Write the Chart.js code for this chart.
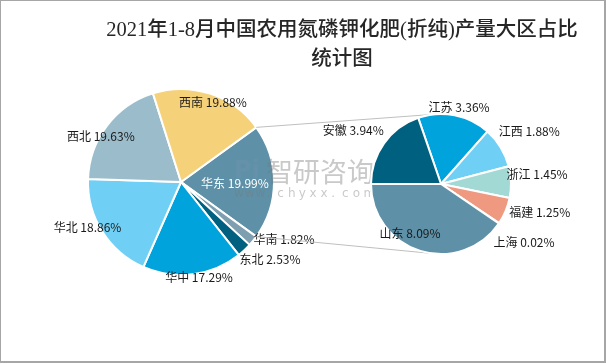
<!DOCTYPE html>
<html>
<head>
<meta charset="utf-8">
<script src="https://cdn.jsdelivr.net/npm/chart.js@4.4.0/dist/chart.umd.min.js"></script>
<style>
  html, body { margin: 0; padding: 0; background: #fff; }
  #wrap { position: relative; width: 606px; height: 364px; }
  #wrap canvas { position: absolute; left: 0; top: 0; }
  #frame { position: absolute; left: 0; top: 0; width: 603px; height: 360px;
           border: 1px solid #a6a6a6; border-right-width: 2px; border-bottom-width: 2px; }
</style>
</head>
<body>
<div id="wrap">
  <canvas id="mainPie" width="606" height="364"></canvas>
  <canvas id="subPie" width="606" height="364"></canvas>
  <div id="frame"></div>
</div>
<script>
const titleLines = ["2021年1-8月中国农用氮磷钾化肥(折纯)产量大区占比", "统计图"];

const mainLabels = ["华东", "华南", "东北", "华中", "华北", "西北", "西南"];
const mainValues = [19.99, 1.82, 2.53, 17.29, 18.86, 19.63, 19.88];

const subLabels = ["江苏", "江西", "浙江", "福建", "上海", "山东", "安徽"];
const subValues = [3.36, 1.88, 1.45, 1.25, 0.02, 8.09, 3.94];

const mainColors = ["#5e91a8", "#7d9fb0", "#00607f", "#00a3dc", "#6fcff5", "#9bbccb", "#f5d27a"];
const subColors = ["#00a3dc", "#6fcff5", "#a3d9d5", "#ef9980", "#9bbccb", "#5e91a8", "#00607f"];

// label placement: [radius factor, angle shift in degrees, colour]
const mainPlace = [[0.58, 1, "#fff"], [1.27, -10], [1.27, -6], [1.04, -3.5], [1.12, 6], [0.99, -7.6], [0.92, 3.7]];
const subPlace = [[1.13, 2], [1.47, 0.6], [1.38, -4], [1.47, -6.5], [1.45, 1], [0.83, 15], [1.47, -4]];

const labelFont = '12px "Noto Sans CJK SC", "Liberation Sans", sans-serif';

function sliceLabels(place) {
  return {
    id: "sliceLabels",
    afterDatasetsDraw(chart) {
      const ctx = chart.ctx;
      const meta = chart.getDatasetMeta(0);
      const names = chart.data.labels;
      const vals = chart.data.datasets[0].data;
      ctx.save();
      ctx.font = labelFont;
      ctx.textAlign = "center";
      ctx.textBaseline = "middle";
      meta.data.forEach((arc, i) => {
        const p = place[i];
        const a = (arc.startAngle + arc.endAngle) / 2 + (p[1] * Math.PI) / 180;
        const r = arc.outerRadius * p[0];
        ctx.fillStyle = p[2] || "#1a1a1a";
        ctx.fillText(names[i] + " " + vals[i].toFixed(2) + "%", arc.x + r * Math.cos(a), arc.y + r * Math.sin(a));
      });
      ctx.restore();
    },
  };
}

const watermark = {
  id: "watermark",
  afterDatasetsDraw(chart) {
    const ctx = chart.ctx;
    ctx.save();
    ctx.textAlign = "left";
    ctx.textBaseline = "middle";
    ctx.fillStyle = "rgba(120,120,120,0.4)";
    ctx.font = '27px "Noto Sans CJK SC", sans-serif';
    ctx.fillText("智研咨询", 266, 172);
    ctx.font = '12px "DejaVu Sans", sans-serif';
    const site = "www.chyxx.com";
    for (let i = 0; i < site.length; i++) ctx.fillText(site[i], 234 + i * 10.8, 194);
    ctx.fillStyle = "rgba(120,150,175,0.3)";
    ctx.font = 'bold 24px "DejaVu Sans", sans-serif';
    ctx.fillText("Pi", 234, 172);
    ctx.restore();
  },
};

const mainSum = mainValues.reduce((a, b) => a + b, 0);

const mainChart = new Chart(document.getElementById("mainPie"), {
  type: "pie",
  data: {
    labels: mainLabels,
    datasets: [{
      data: mainValues,
      backgroundColor: mainColors,
      borderColor: "#fff",
      borderWidth: 2,
      radius: 93,
    }],
  },
  options: {
    responsive: false,
    animation: false,
    rotation: 90 - (mainValues[0] / mainSum) * 180,
    layout: { padding: { left: 86, right: 330, top: 87, bottom: 87 } },
    plugins: { legend: { display: false }, tooltip: { enabled: false } },
  },
  plugins: [watermark, sliceLabels(mainPlace)],
});

const connectors = {
  id: "connectors",
  beforeDatasetsDraw(chart) {
    const ctx = chart.ctx;
    const big = mainChart.getDatasetMeta(0).data[0];
    const sub = chart.getDatasetMeta(0).data[0];
    const R = sub.outerRadius;
    const ends = [[big.startAngle, -1], [big.endAngle, 1]];
    ctx.save();
    ctx.strokeStyle = "#bfbfbf";
    ctx.lineWidth = 1;
    ends.forEach(([ang, side]) => {
      const px = big.x + big.outerRadius * Math.cos(ang);
      const py = big.y + big.outerRadius * Math.sin(ang);
      const dx = sub.x - px, dy = sub.y - py;
      const d = Math.hypot(dx, dy);
      const t = Math.atan2(dy, dx) + side * Math.asin(R / d);
      const len = Math.sqrt(d * d - R * R);
      ctx.beginPath();
      ctx.moveTo(px, py);
      ctx.lineTo(px + len * Math.cos(t), py + len * Math.sin(t));
      ctx.stroke();
    });
    ctx.restore();
  },
};

const titlePlugin = {
  id: "titleText",
  afterDraw(chart) {
    const ctx = chart.ctx;
    ctx.save();
    ctx.fillStyle = "#262626";
    ctx.font = '500 20.5px "Liberation Serif", "Noto Sans CJK SC", serif';
    ctx.textAlign = "center";
    ctx.textBaseline = "middle";
    titleLines.forEach((line, i) => ctx.fillText(line, 342, 31 + i * 29));
    ctx.restore();
  },
};

new Chart(document.getElementById("subPie"), {
  type: "pie",
  data: {
    labels: subLabels,
    datasets: [{
      data: subValues,
      backgroundColor: subColors,
      borderColor: "#fff",
      borderWidth: 2,
      radius: 70,
    }],
  },
  options: {
    responsive: false,
    animation: false,
    rotation: -19,
    layout: { padding: { left: 366, right: 90, top: 109, bottom: 105 } },
    plugins: { legend: { display: false }, tooltip: { enabled: false } },
  },
  plugins: [connectors, sliceLabels(subPlace), titlePlugin],
});
</script>
</body>
</html>
